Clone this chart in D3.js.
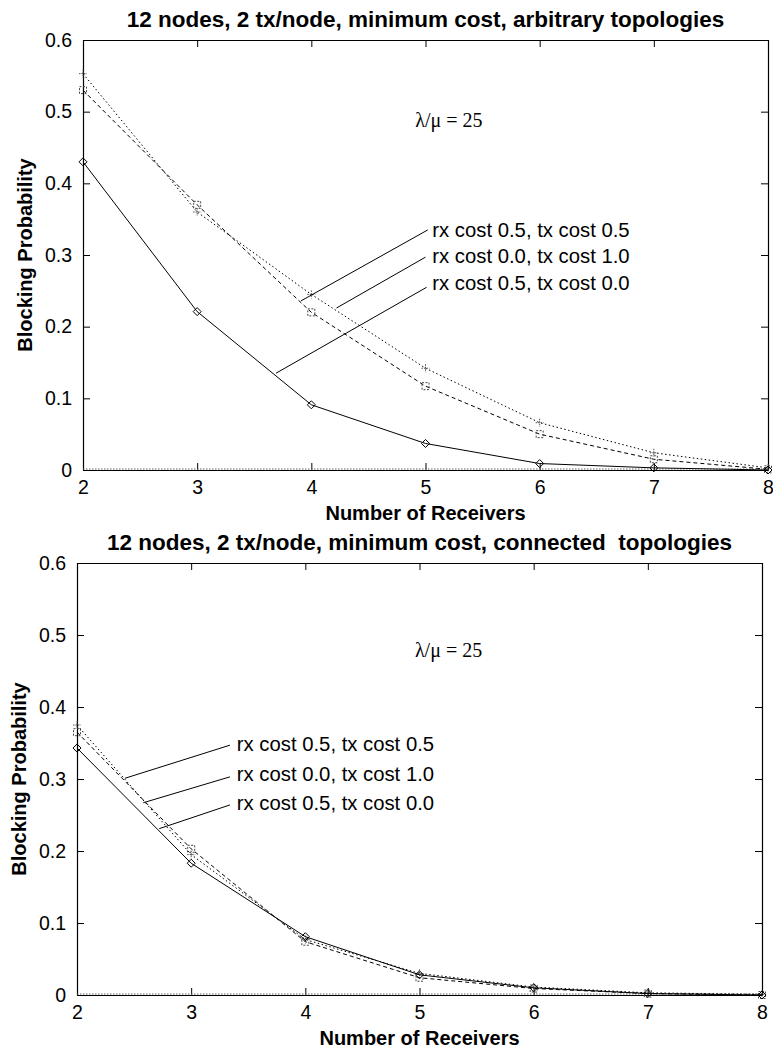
<!DOCTYPE html>
<html>
<head>
<meta charset="utf-8">
<script src="https://cdn.jsdelivr.net/npm/d3@7"></script>
<style>
  body { margin: 0; background: #fff; }
  svg { display: block; }
  text { font-family: "Liberation Sans", Arial, sans-serif; fill: #000; }
</style>
</head>
<body>
<svg id="chart" width="773" height="1051"></svg>
<script>
// ---- data ----
const receivers = [2, 3, 4, 5, 6, 7, 8];
const yTicks = [0, 0.1, 0.2, 0.3, 0.4, 0.5, 0.6];

// arbitrary topologies
const arbHalfHalf = [0.553, 0.360, 0.245, 0.142, 0.066, 0.024, 0.003]; // dotted
const arbZeroOne  = [0.530, 0.370, 0.220, 0.117, 0.050, 0.015, 0.001]; // dashed
const arbHalfZero = [0.430, 0.221, 0.091, 0.037, 0.009, 0.003, 0.000]; // solid

// connected topologies
const conHalfHalf = [0.375, 0.195, 0.077, 0.030, 0.011, 0.003, 0.001];
const conZeroOne  = [0.365, 0.203, 0.074, 0.024, 0.009, 0.002, 0.000];
const conHalfZero = [0.343, 0.183, 0.081, 0.028, 0.010, 0.002, 0.000];

const legendLabels = ["rx cost 0.5, tx cost 0.5", "rx cost 0.0, tx cost 1.0", "rx cost 0.5, tx cost 0.0"];

// leader lines: [x0, y0, x1, y1] in data units
const arbLeaders = [[3.91, 0.236, 5.02, 0.335], [4.22, 0.226, 5.00, 0.297], [3.69, 0.135, 5.01, 0.255]];
const arbLabelPos = [[5.06, 0.335], [5.06, 0.299], [5.06, 0.261]];
const conLeaders = [[2.42, 0.301, 3.34, 0.347], [2.58, 0.267, 3.34, 0.303], [2.72, 0.231, 3.34, 0.264]];
const conLabelPos = [[3.40, 0.349], [3.40, 0.308], [3.40, 0.267]];

const panels = [
  {
    title: "12 nodes, 2 tx/node, minimum cost, arbitrary topologies",
    box: { left: 83, right: 768, top: 40, bottom: 470 },
    series: [arbHalfHalf, arbZeroOne, arbHalfZero],
    leaders: arbLeaders, labelPos: arbLabelPos, ratio: [4.91, 0.488]
  },
  {
    title: "12 nodes, 2 tx/node, minimum cost, connected\u00a0 topologies",
    box: { left: 77, right: 762, top: 563, bottom: 995 },
    series: [conHalfHalf, conZeroOne, conHalfZero],
    leaders: conLeaders, labelPos: conLabelPos, ratio: [4.96, 0.479]
  }
];

const styles = [
  { dash: "1.5,2.5", marker: "plus" },
  { dash: "4,3", marker: "square" },
  { dash: null, marker: "diamond" }
];

const svg = d3.select("#chart");

const drawPanel = (p) => {
  const { left, right, top, bottom } = p.box;
  const x = d3.scaleLinear().domain([2, 8]).range([left, right]);
  const y = d3.scaleLinear().domain([0, 0.6]).range([bottom, top]);
  const g = svg.append("g");

  // frame axes, ticks pointing inward
  const axB = d3.axisBottom(x).tickValues(receivers).tickFormat(d3.format("d")).tickSizeInner(-7).tickSizeOuter(0).tickPadding(10);
  const axT = d3.axisTop(x).tickValues(receivers).tickFormat("").tickSizeInner(-7).tickSizeOuter(0);
  const axL = d3.axisLeft(y).tickValues(yTicks).tickFormat(d => d === 0 ? "0" : d3.format(".1f")(d)).tickSizeInner(-7).tickSizeOuter(0).tickPadding(11);
  const axR = d3.axisRight(y).tickValues(yTicks).tickFormat("").tickSizeInner(-7).tickSizeOuter(0);

  g.append("g").attr("transform", `translate(0,${bottom})`).call(axB);
  g.append("g").attr("transform", `translate(0,${top})`).call(axT);
  g.append("g").attr("transform", `translate(${left},0)`).call(axL);
  g.append("g").attr("transform", `translate(${right},0)`).call(axR);
  g.selectAll(".domain").attr("stroke", "#000").attr("stroke-width", 1.2);
  g.selectAll(".tick line").attr("stroke", "#000");
  g.selectAll(".tick text").style("font-size", "19.5px").attr("fill", "#000");

  // dotted baseline along zero
  g.append("line")
    .attr("x1", x(2)).attr("x2", x(8))
    .attr("y1", y(0) - 1).attr("y2", y(0) - 1)
    .attr("stroke", "#666").attr("stroke-width", 1.2).attr("stroke-dasharray", "1.5,1.5");

  const line = d3.line().x((d, i) => x(receivers[i])).y(d => y(d));

  p.series.forEach((vals, k) => {
    const st = styles[k];
    g.append("path")
      .attr("d", line(vals))
      .attr("fill", "none")
      .attr("stroke", "#000")
      .attr("stroke-width", 1)
      .attr("stroke-dasharray", st.dash);

    const mk = g.append("g");
    vals.forEach((v, i) => {
      const cx = x(receivers[i]), cy = y(v);
      if (st.marker === "diamond") {
        mk.append("path").attr("d", `M${cx},${cy - 4}L${cx + 4},${cy}L${cx},${cy + 4}L${cx - 4},${cy}Z`)
          .attr("fill", "none").attr("stroke", "#000").attr("stroke-width", 1);
      } else if (st.marker === "square") {
        mk.append("rect").attr("x", cx - 3.5).attr("y", cy - 3.5).attr("width", 7).attr("height", 7)
          .attr("fill", "none").attr("stroke", "#444").attr("stroke-width", 1).attr("stroke-dasharray", "2,1.5");
      } else {
        mk.append("path").attr("d", `M${cx - 4},${cy}H${cx + 4}M${cx},${cy - 4}V${cy + 4}`)
          .attr("fill", "none").attr("stroke", "#555").attr("stroke-width", 1).attr("stroke-dasharray", "1.5,1");
      }
    });
  });

  // leader lines and labels
  p.leaders.forEach(([x0, y0, x1, y1]) => {
    g.append("line")
      .attr("x1", x(x0)).attr("y1", y(y0)).attr("x2", x(x1)).attr("y2", y(y1))
      .attr("stroke", "#000").attr("stroke-width", 1);
  });
  legendLabels.forEach((t, i) => {
    g.append("text")
      .attr("x", x(p.labelPos[i][0])).attr("y", y(p.labelPos[i][1]))
      .attr("dy", "0.36em")
      .style("font-size", "20.3px")
      .text(t);
  });

  // lambda / mu annotation
  g.append("text")
    .attr("x", x(p.ratio[0])).attr("y", y(p.ratio[1]))
    .attr("dy", "0.35em")
    .style("font-family", "'Liberation Serif', 'Times New Roman', serif")
    .style("font-size", "20px")
    .text("\u03bb/\u03bc = 25");

  // titles
  g.append("text")
    .attr("x", (left + right) / 2).attr("y", top - 21)
    .attr("dy", "0.35em")
    .attr("text-anchor", "middle")
    .style("font-size", "22.5px").style("font-weight", "bold")
    .text(p.title);

  g.append("text")
    .attr("x", (left + right) / 2).attr("y", bottom + 43)
    .attr("dy", "0.35em")
    .attr("text-anchor", "middle")
    .style("font-size", "20px").style("font-weight", "bold")
    .text("Number of Receivers");

  g.append("text")
    .attr("transform", `translate(${left - 58},${(top + bottom) / 2}) rotate(-90)`)
    .attr("dy", "0.35em")
    .attr("text-anchor", "middle")
    .style("font-size", "20px").style("font-weight", "bold")
    .text("Blocking Probability");
};

panels.forEach(drawPanel);
</script>
</body>
</html>
